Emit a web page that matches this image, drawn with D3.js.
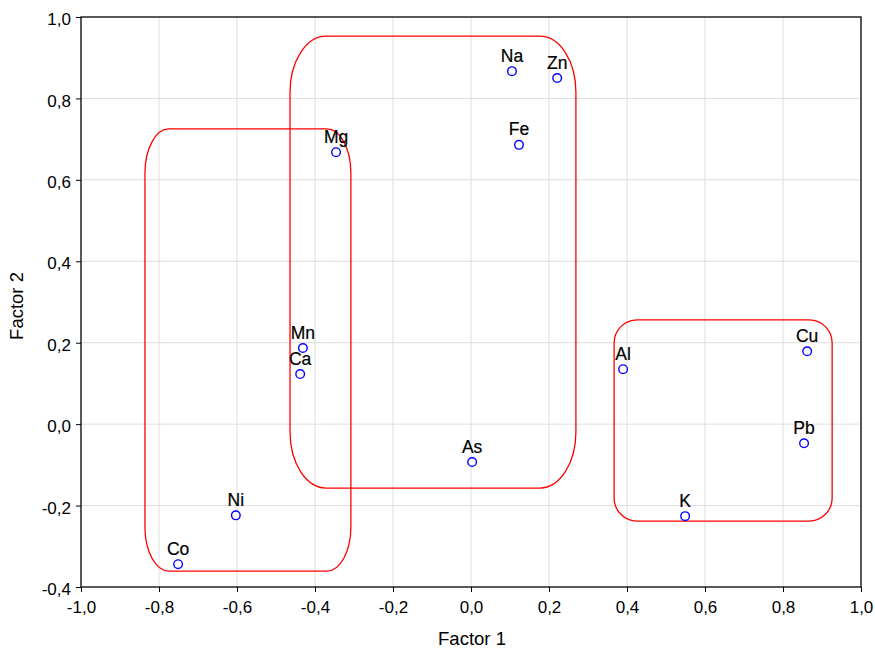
<!DOCTYPE html>
<html>
<head>
<meta charset="utf-8">
<script src="https://cdn.jsdelivr.net/npm/d3@7"></script>
<style>
  body { margin: 0; background: #fff; }
  svg { display: block; }
  text { font-family: Arial, "Liberation Sans", sans-serif; }
</style>
</head>
<body>
<svg id="chart" width="875" height="648"></svg>
<script>
const labels = ["Na", "Zn", "Fe", "Mg", "Mn", "Ca", "As", "Ni", "Co", "Al", "Cu", "Pb", "K"];
const factor1 = [0.105, 0.221, 0.123, -0.346, -0.431, -0.438, 0.003, -0.603, -0.751, 0.390, 0.862, 0.854, 0.549];
const factor2 = [0.867, 0.850, 0.686, 0.668, 0.187, 0.123, -0.093, -0.224, -0.344, 0.135, 0.179, -0.047, -0.226];
const xTicks = [-1.0, -0.8, -0.6, -0.4, -0.2, 0.0, 0.2, 0.4, 0.6, 0.8, 1.0];
const yTicks = [-0.4, -0.2, 0.0, 0.2, 0.4, 0.6, 0.8, 1.0];
// groups: [x0, x1, yTop, yBottom]
const groupX0 = [-0.836, -0.464, 0.367];
const groupX1 = [-0.308, 0.269, 0.926];
const groupYTop = [0.725, 0.953, 0.256];
const groupYBot = [-0.361, -0.157, -0.238];

(function () {
const svg = d3.select("#chart");
const mL = 81, mR = 861, mT = 17, mB = 587;
const x = d3.scaleLinear().domain([-1, 1]).range([mL, mR]);
const y = d3.scaleLinear().domain([-0.4, 1.0]).range([mB, mT]);
const fmt = d => d3.format(".1f")(d).replace(".", ",").replace("−", "-");

// grid
svg.append("g").selectAll("line").data(xTicks.slice(1, -1)).join("line")
  .attr("x1", d => x(d)).attr("x2", d => x(d)).attr("y1", mT).attr("y2", mB)
  .attr("stroke", "#dedede").attr("stroke-width", 1);
svg.append("g").selectAll("line").data(yTicks.slice(1, -1)).join("line")
  .attr("y1", d => y(d)).attr("y2", d => y(d)).attr("x1", mL).attr("x2", mR)
  .attr("stroke", "#dedede").attr("stroke-width", 1);

// group outlines
const groups = groupX0.map((d, i) => ({x0: d, x1: groupX1[i], yt: groupYTop[i], yb: groupYBot[i]}));
const rxs = [24, 36, 23], rys = [44, 56, 23];
svg.append("g").selectAll("rect").data(groups).join("rect")
  .attr("x", d => x(d.x0)).attr("y", d => y(d.yt))
  .attr("width", d => x(d.x1) - x(d.x0)).attr("height", d => y(d.yb) - y(d.yt))
  .attr("rx", (d, i) => rxs[i]).attr("ry", (d, i) => rys[i])
  .attr("fill", "none").attr("stroke", "#ff0000").attr("stroke-width", 1.3);

// axes
const xAxis = d3.axisBottom(x).tickValues(xTicks).tickFormat(fmt).tickSize(5).tickSizeOuter(0);
const yAxis = d3.axisLeft(y).tickValues(yTicks).tickFormat(fmt).tickSize(5).tickSizeOuter(0);
const gx = svg.append("g").attr("transform", `translate(0,${mB})`).call(xAxis);
const gy = svg.append("g").attr("transform", `translate(${mL},0)`).call(yAxis);
[gx, gy].forEach(g => {
  g.select(".domain").remove();
  g.selectAll(".tick line").attr("stroke", "#000");
  g.selectAll(".tick text").attr("fill", "#000").style("font-size", "17px")
    .style("font-family", "Arial, 'Liberation Sans', sans-serif");
});
gx.selectAll(".tick text").attr("dy", null).attr("y", 26);
gy.selectAll(".tick text").attr("x", -10).attr("dy", "0.45em");

// frame
svg.append("rect").attr("x", mL).attr("y", mT).attr("width", mR - mL).attr("height", mB - mT)
  .attr("fill", "none").attr("stroke", "#000").attr("stroke-width", 1.3);

// points
const pts = labels.map((l, i) => ({l, fx: factor1[i], fy: factor2[i]}));
svg.append("g").selectAll("circle").data(pts).join("circle")
  .attr("cx", d => x(d.fx)).attr("cy", d => y(d.fy)).attr("r", 4.3)
  .attr("fill", "#fff").attr("stroke", "#0000ff").attr("stroke-width", 1.4);
svg.append("g").selectAll("text").data(pts).join("text")
  .attr("x", d => x(d.fx)).attr("y", d => y(d.fy) - 9.5)
  .attr("text-anchor", "middle").style("font-size", "17.5px").attr("fill", "#000")
  .attr("stroke", "#000").attr("stroke-width", 0.2)
  .text(d => d.l);

// titles
svg.append("text").attr("x", 472).attr("y", 645).attr("text-anchor", "middle")
  .style("font-size", "18.5px").text("Factor 1");
svg.append("text").attr("transform", `translate(23,306) rotate(-90)`)
  .attr("text-anchor", "middle").style("font-size", "18.5px").text("Factor 2");
})();
</script>
</body>
</html>
